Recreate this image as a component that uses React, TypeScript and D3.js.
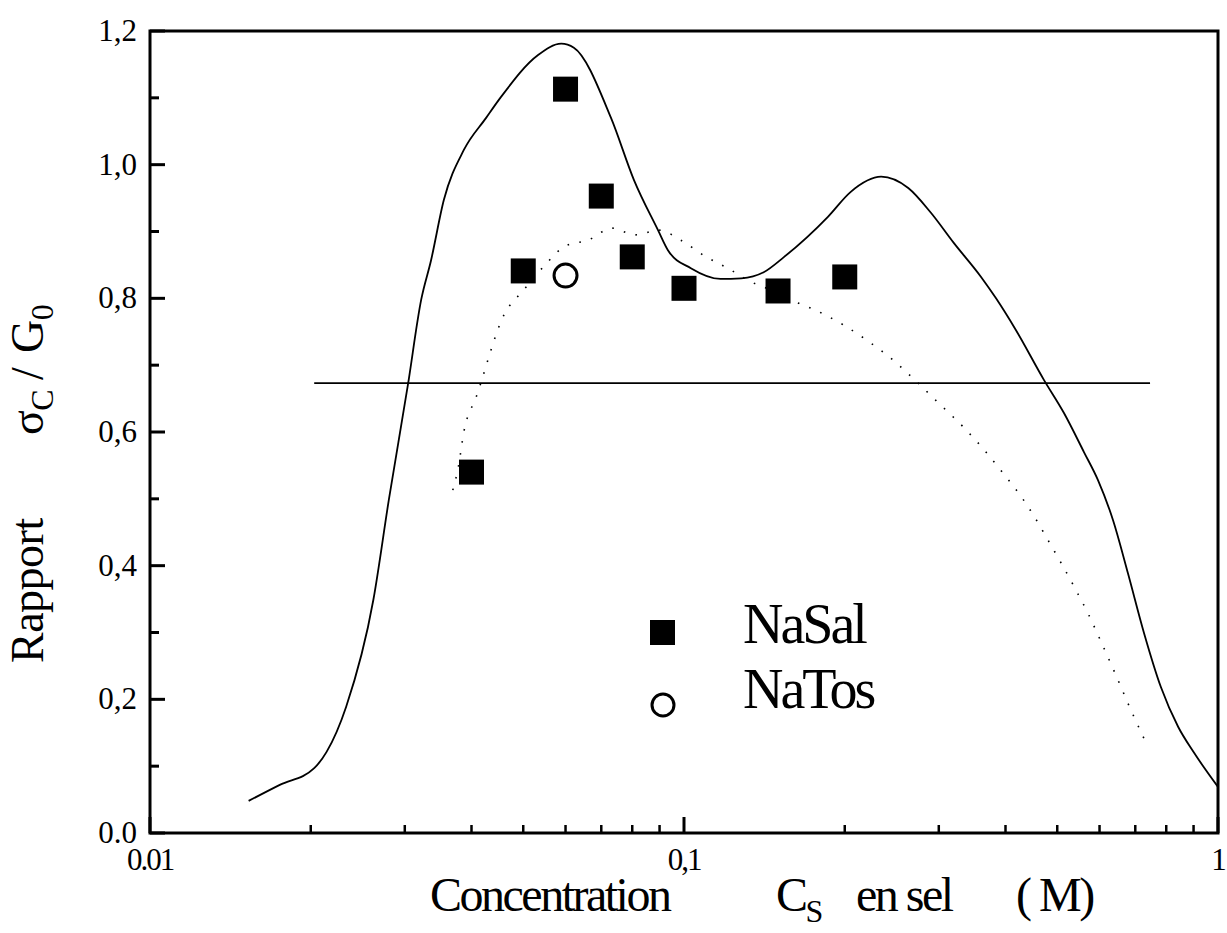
import * as d3 from 'd3'

// NaSal measured points (concentration M, ratio)
const nasalX: number[] = [0.04, 0.05, 0.06, 0.07, 0.08, 0.1, 0.15, 0.2]
const nasalY: number[] = [0.540, 0.841, 1.113, 0.953, 0.862, 0.815, 0.811, 0.832]

// NaTos measured point
const natosX: number[] = [0.06]
const natosY: number[] = [0.834]

// solid model curve
const solidX: number[] = [0.0153, 0.0175, 0.0203, 0.0214, 0.0233, 0.0262, 0.028, 0.0304, 0.0322, 0.0336, 0.0355, 0.0387, 0.0426, 0.0454, 0.0533, 0.0589, 0.0622, 0.073, 0.0806, 0.0894, 0.0933, 0.103, 0.117, 0.128, 0.141, 0.154, 0.186, 0.205, 0.234, 0.263, 0.29, 0.32, 0.36, 0.384, 0.418, 0.472, 0.515, 0.561, 0.596, 0.636, 0.678, 0.727, 0.782, 0.842, 0.902, 1.0]
const solidY: number[] = [0.048, 0.072, 0.097, 0.121, 0.189, 0.349, 0.498, 0.67, 0.798, 0.857, 0.947, 1.022, 1.07, 1.101, 1.164, 1.181, 1.175, 1.07, 0.977, 0.902, 0.872, 0.845, 0.829, 0.83, 0.839, 0.862, 0.922, 0.959, 0.982, 0.965, 0.928, 0.883, 0.832, 0.8, 0.753, 0.678, 0.628, 0.57, 0.528, 0.468, 0.389, 0.299, 0.218, 0.159, 0.12, 0.069]

// dotted model curve
const dotX: number[] = [0.0369, 0.0378, 0.0387, 0.0408, 0.0462, 0.0499, 0.0545, 0.0599, 0.0661, 0.0733, 0.0809, 0.0898, 0.0991, 0.1095, 0.1214, 0.134, 0.141, 0.1635, 0.172, 0.2, 0.222, 0.246, 0.272, 0.3, 0.333, 0.365, 0.397, 0.43, 0.458, 0.472, 0.544, 0.573, 0.601, 0.644, 0.687, 0.736]
const dotY: number[] = [0.513, 0.548, 0.6, 0.652, 0.778, 0.811, 0.847, 0.878, 0.887, 0.905, 0.895, 0.902, 0.886, 0.863, 0.844, 0.824, 0.817, 0.793, 0.786, 0.759, 0.735, 0.708, 0.676, 0.643, 0.608, 0.573, 0.537, 0.501, 0.467, 0.449, 0.361, 0.326, 0.29, 0.236, 0.184, 0.132]

// horizontal reference line
const refLineY = 0.673
const refLineX: number[] = [0.0203, 0.746]

const yTicks: number[] = [0, 0.2, 0.4, 0.6, 0.8, 1.0, 1.2]
const yTickLabels: string[] = ['0.0', '0,2', '0,4', '0,6', '0,8', '1,0', '1,2']
const yMinor: number[] = [0.1, 0.3, 0.5, 0.7, 0.9, 1.1]
const xTicks: number[] = [0.01, 0.1, 1]
const xTickLabels: string[] = ['0.01', '0,1', '1']

const left = 150, right = 1218, top = 31, bottom = 833
const serif = '"Liberation Serif", "Times New Roman", serif'

export default function App() {
  const x = d3.scaleLog().domain([0.01, 1]).range([left, right])
  const y = d3.scaleLinear().domain([0, 1.2]).range([bottom, top])

  const line = d3.line<[number, number]>()
    .x(d => x(d[0]))
    .y(d => y(d[1]))
    .curve(d3.curveMonotoneX)

  const solidPath = line(solidX.map((v, i) => [v, solidY[i]])) || ''
  const dotPath = line(dotX.map((v, i) => [v, dotY[i]])) || ''

  const xMinor: number[] = []
  for (const dec of [0.01, 0.1]) {
    for (let k = 2; k <= 9; k++) xMinor.push(dec * k)
  }

  const sq = 25

  return (
    <svg width={1227} height={933} style={{ position: 'absolute', left: 0, top: 0, background: '#fff' }}>
      {/* curves */}
      <path d={solidPath} fill="none" stroke="#000" strokeWidth={1.8} />
      <path d={dotPath} fill="none" stroke="#000" strokeWidth={1.6} strokeDasharray="1.6 10.5" />
      <line x1={x(refLineX[0])} x2={x(refLineX[1])} y1={y(refLineY)} y2={y(refLineY)} stroke="#000" strokeWidth={1.8} />

      {/* frame */}
      <rect x={left} y={top} width={right - left} height={bottom - top} fill="none" stroke="#000" strokeWidth={3} />

      {/* y ticks */}
      {yTicks.map((t, i) => (
        <g key={'yt' + i}>
          <line x1={left} x2={left + 15} y1={y(t)} y2={y(t)} stroke="#000" strokeWidth={3} />
          <text x={137} y={y(t) + 10} textAnchor="end" fontFamily={serif} fontSize={31}>{yTickLabels[i]}</text>
        </g>
      ))}
      {yMinor.map((t, i) => (
        <line key={'ym' + i} x1={left} x2={left + 9} y1={y(t)} y2={y(t)} stroke="#000" strokeWidth={3} />
      ))}

      {/* x ticks */}
      {xTicks.map((t, i) => (
        <g key={'xt' + i}>
          <line x1={x(t)} x2={x(t)} y1={bottom} y2={bottom - 16} stroke="#000" strokeWidth={3} />
          <text x={x(t)} y={870} textAnchor="middle" fontFamily={serif} fontSize={31} letterSpacing={-2}>{xTickLabels[i]}</text>
        </g>
      ))}
      {xMinor.map((t, i) => (
        <line key={'xm' + i} x1={x(t)} x2={x(t)} y1={bottom} y2={bottom - 8} stroke="#000" strokeWidth={2.5} />
      ))}

      {/* NaSal squares */}
      {nasalX.map((v, i) => (
        <rect key={'s' + i} x={x(v) - sq / 2} y={y(nasalY[i]) - sq / 2} width={sq} height={sq} fill="#000" />
      ))}
      {/* NaTos circle */}
      {natosX.map((v, i) => (
        <circle key={'c' + i} cx={x(v)} cy={y(natosY[i])} r={11.5} fill="none" stroke="#000" strokeWidth={3} />
      ))}

      {/* legend */}
      <rect x={650} y={620} width={25} height={25} fill="#000" />
      <circle cx={663} cy={705} r={11} fill="none" stroke="#000" strokeWidth={3} />
      <text x={743} y={643} fontFamily={serif} fontSize={56} letterSpacing={-3}>NaSal</text>
      <text x={743} y={708} fontFamily={serif} fontSize={56} letterSpacing={-3}>NaTos</text>

      {/* x axis title */}
      <text y={911} fontFamily={serif} fontSize={48} letterSpacing={-2.5}>
        <tspan x={430}>Concentration</tspan>
        <tspan x={776}>C</tspan>
        <tspan dy={11} fontSize={32}>S</tspan>
        <tspan x={856} dy={-11}>en sel</tspan>
        <tspan x={1016}>( M)</tspan>
      </text>

      {/* y axis title */}
      <text transform="translate(43,663) rotate(-90)" fontFamily={serif} fontSize={46} letterSpacing={-0.5}>
        <tspan x={0}>Rapport</tspan>
        <tspan x={228}>σ</tspan>
        <tspan dy={10} fontSize={32}>C</tspan>
        <tspan x={283} dy={-10}>/</tspan>
        <tspan x={310}>G</tspan>
        <tspan dy={10} fontSize={32}>0</tspan>
      </text>
    </svg>
  )
}
